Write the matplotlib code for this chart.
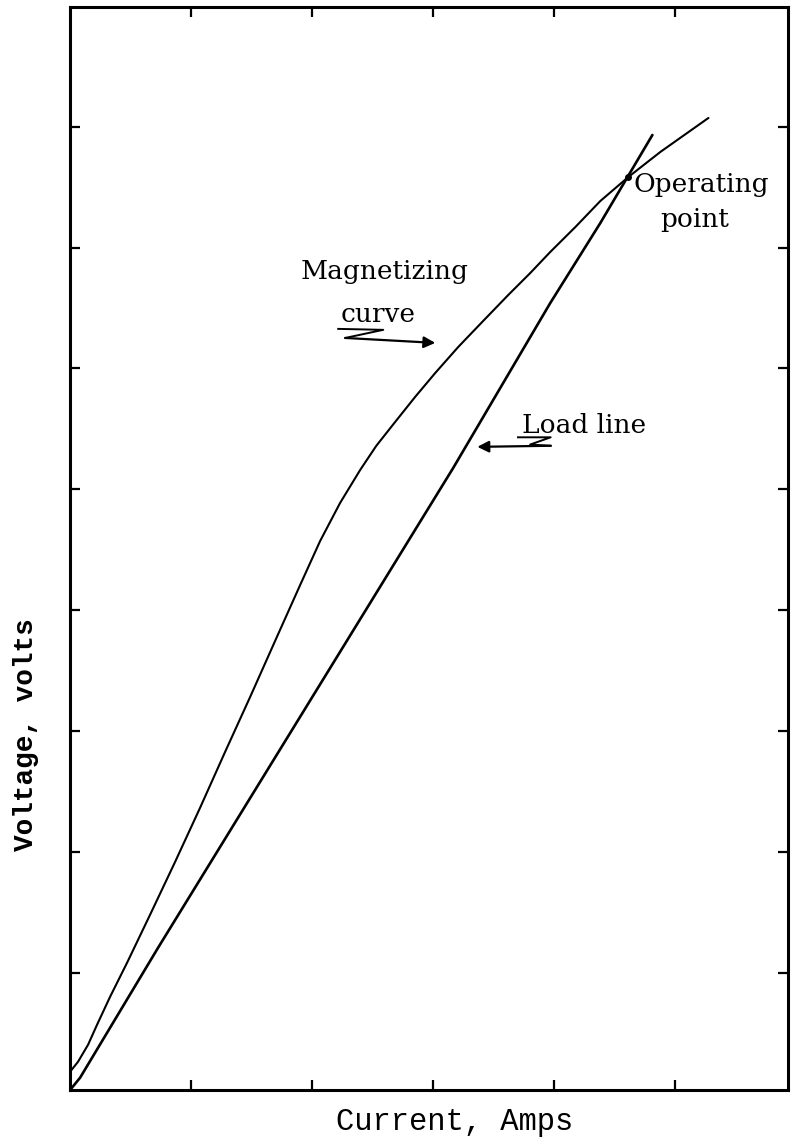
import numpy as np
import matplotlib
matplotlib.use("Agg")
import matplotlib.pyplot as plt

# magnetizing (open-circuit) curve, current vs voltage in grid units
mag_current = [0.0, 0.066, 0.149, 0.223, 0.331, 0.471, 0.661, 0.868, 1.074, 1.281,
               1.488, 1.694, 1.901, 2.066, 2.231, 2.397, 2.529, 2.686, 2.851, 3.017,
               3.207, 3.405, 3.620, 3.802, 3.967, 4.174, 4.380, 4.612, 4.876, 5.273]
mag_voltage = [0.181, 0.264, 0.405, 0.570, 0.802, 1.083, 1.480, 1.918, 2.365, 2.828,
               3.283, 3.746, 4.209, 4.573, 4.888, 5.161, 5.359, 5.558, 5.765, 5.963,
               6.178, 6.385, 6.608, 6.790, 6.964, 7.170, 7.385, 7.584, 7.791, 8.072]

# field-circuit load line
load_current = [0.0, 0.083, 0.727, 3.165, 3.967, 4.380, 4.810]
load_voltage = [0.03, 0.132, 1.207, 5.177, 6.542, 7.203, 7.931]

# where the two cross
op_current = 4.612
op_voltage = 7.584

x_ticks = [1, 2, 3, 4, 5]
y_ticks = [1, 2, 3, 4, 5, 6, 7, 8]

serif = "DejaVu Serif"
mono = "Liberation Mono"

fig = plt.figure(figsize=(7.95, 11.45), dpi=100)
ax = fig.add_axes([0.0881, 0.0480, 0.9031, 0.9459])

ax.plot(mag_current, mag_voltage, color="black", lw=1.5, solid_capstyle="round")
ax.plot(load_current, load_voltage, color="black", lw=1.9, solid_capstyle="round")
ax.plot([op_current], [op_voltage], "o", color="black", ms=4)

ax.set_xlim(0, 5.93)
ax.set_ylim(0.03, 8.99)
ax.set_xticks(x_ticks)
ax.set_yticks(y_ticks)
ax.tick_params(direction="in", length=7, width=1.6, top=True, right=True,
               labelbottom=False, labelleft=False)
for side in ax.spines.values():
    side.set_linewidth(2.2)

# labels on the curves
txt = dict(family=serif, fontsize=19)
ax.text(4.653, 7.46, "Operating", **txt)
ax.text(4.876, 7.17, "point", **txt)
ax.text(1.901, 6.74, "Magnetizing", **txt)
ax.text(2.231, 6.385, "curve", **txt)
ax.text(3.736, 5.466, "Load line", **txt)

# hand-drawn leaders with arrowheads
arrow = dict(arrowstyle="-|>", color="black", lw=1.6, mutation_scale=17,
             shrinkA=0, shrinkB=0)
ax.plot([2.215, 2.587, 2.273], [6.327, 6.319, 6.252], color="black", lw=1.4)
ax.annotate("", xy=(3.017, 6.211), xytext=(2.273, 6.252), arrowprops=arrow)
ax.plot([3.70, 3.97, 3.80, 3.97], [5.43, 5.43, 5.37, 5.36], color="black", lw=1.4)
ax.annotate("", xy=(3.364, 5.351), xytext=(3.97, 5.36), arrowprops=arrow)

fig.text(455 / 795, 1 - 1122 / 1145, "Current, Amps", family=mono, fontsize=22,
         ha="center", va="center")
fig.text(26 / 795, 1 - 735 / 1145, "Voltage, volts", family=mono, fontsize=20,
         fontweight="bold", rotation=90, ha="center", va="center")

fig.savefig("out.png", dpi=100)
